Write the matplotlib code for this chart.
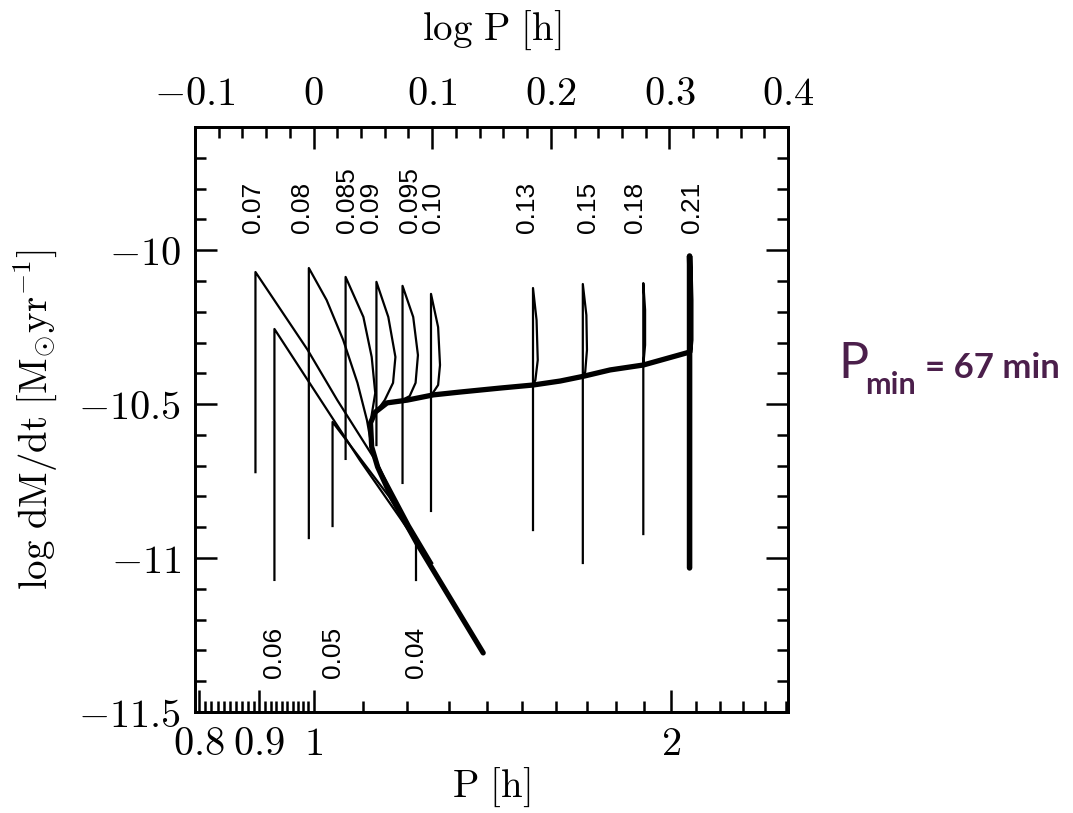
import numpy as np
import matplotlib
matplotlib.use('Agg')
import matplotlib.pyplot as plt
from matplotlib.ticker import FixedLocator, MultipleLocator

plt.rcParams['mathtext.fontset'] = 'cm'
plt.rcParams['font.family'] = 'serif'
plt.rcParams['font.serif'] = ['DejaVu Serif']

# evolutionary tracks: log P [h] vs log dM/dt [Msun/yr], one per initial donor mass
lp_007 = [-0.049, -0.049, -0.005, 0.020, 0.052, 0.081, 0.100]
lm_007 = [-10.721, -10.071, -10.324, -10.487, -10.682, -10.893, -11.016]

lp_006 = [-0.033, -0.033, 0.039, 0.073, 0.094, 0.098]
lm_006 = [-11.071, -10.256, -10.682, -10.870, -10.990, -11.016]

lp_005 = [0.016, 0.016, 0.039, 0.064, 0.086, 0.096]
lm_005 = [-10.896, -10.558, -10.675, -10.802, -10.932, -11.006]

lp_004 = [0.086, 0.086]
lm_004 = [-11.071, -10.941]

lp_008 = [-0.004, -0.004, 0.011, 0.025, 0.037, 0.045, 0.049, 0.056, 0.066]
lm_008 = [-10.935, -10.058, -10.162, -10.292, -10.431, -10.552, -10.639, -10.714, -10.805]

lp_0085 = [0.027, 0.027, 0.042, 0.049, 0.052, 0.049, 0.048]
lm_0085 = [-10.678, -10.087, -10.217, -10.347, -10.464, -10.535, -10.568]

lp_009 = [0.053, 0.053, 0.063, 0.069, 0.067, 0.060, 0.054]
lm_009 = [-10.633, -10.103, -10.217, -10.347, -10.431, -10.487, -10.519]

lp_0095 = [0.075, 0.075, 0.084, 0.088, 0.086, 0.081, 0.073]
lm_0095 = [-10.756, -10.116, -10.217, -10.341, -10.431, -10.474, -10.490]

lp_010 = [0.099, 0.099, 0.105, 0.1066, 0.105, 0.100, 0.094]
lm_010 = [-10.847, -10.142, -10.250, -10.373, -10.438, -10.467, -10.477]

lp_013 = [0.185, 0.185, 0.188, 0.189, 0.187, 0.185]
lm_013 = [-10.909, -10.123, -10.227, -10.357, -10.422, -10.438]

lp_015 = [0.227, 0.227, 0.230, 0.2305, 0.229, 0.227]
lm_015 = [-11.016, -10.110, -10.211, -10.324, -10.396, -10.412]

lp_018 = [0.278, 0.278, 0.2795, 0.2795, 0.278]
lm_018 = [-10.922, -10.107, -10.194, -10.308, -10.373]

lp_021 = [0.317, 0.317, 0.318, 0.318, 0.317]
lm_021 = [-11.032, -10.019, -10.162, -10.292, -10.331]

# common secular track through the period minimum
lp_main = [0.317, 0.278, 0.250, 0.227, 0.208, 0.185, 0.157, 0.123, 0.101, 0.079,
           0.062, 0.052, 0.048, 0.049, 0.054, 0.066, 0.087, 0.143]
lm_main = [-10.331, -10.373, -10.389, -10.410, -10.425, -10.438, -10.448, -10.461,
           -10.470, -10.487, -10.496, -10.526, -10.561, -10.639, -10.704, -10.805,
           -10.951, -11.308]

top_masses = ['0.07', '0.08', '0.085', '0.09', '0.095', '0.10', '0.13', '0.15', '0.18', '0.21']
top_mass_lp = [-0.051, -0.010, 0.028, 0.048, 0.081, 0.101, 0.180, 0.231, 0.271, 0.319]
bottom_masses = ['0.06', '0.05', '0.04']
bottom_mass_lp = [-0.033, 0.016, 0.086]

p_major = [0.8, 0.9, 1, 2]
p_minor = list(np.arange(0.81, 0.995, 0.01)) + [1.1, 1.2, 1.3, 1.4, 1.5, 1.6, 1.7, 1.8, 1.9,
                                                2.1, 2.2, 2.3, 2.4, 2.5]
logp_major = [-0.1, 0.0, 0.1, 0.2, 0.3, 0.4]
lm_major = [-11.5, -11.0, -10.5, -10.0]

fig = plt.figure(figsize=(10.73, 8.13), dpi=100)
ax = fig.add_axes([0.1817, 0.1242, 0.5527, 0.7196])

thin = dict(color='black', lw=1.6, solid_joinstyle='round')
for lp, lm in [(lp_007, lm_007), (lp_006, lm_006), (lp_005, lm_005), (lp_004, lm_004),
               (lp_008, lm_008), (lp_0085, lm_0085), (lp_009, lm_009), (lp_0095, lm_0095),
               (lp_010, lm_010), (lp_013, lm_013), (lp_015, lm_015), (lp_018, lm_018)]:
    ax.plot(lp, lm, **thin)
ax.plot(lp_021, lm_021, color='black', lw=4, solid_capstyle='round')
ax.plot(lp_main, lm_main, color='black', lw=3.8, solid_capstyle='round',
        solid_joinstyle='round')

for lab, x in zip(top_masses, top_mass_lp):
    ax.text(x, -9.945, lab, rotation=90, ha='center', va='bottom',
            family='Liberation Sans', fontsize=19)
for lab, x in zip(bottom_masses, bottom_mass_lp):
    ax.text(x, -11.39, lab, rotation=90, ha='center', va='bottom',
            family='Liberation Sans', fontsize=19)

ax.set_xlim(-0.1, 0.4)
ax.set_ylim(-11.5, -9.6)

ax2 = ax.twiny()
ax2.set_xlim(-0.1, 0.4)
ax2.set_xticks(logp_major)
ax2.set_xticklabels(['$-0.1$', '$0$', '$0.1$', '$0.2$', '$0.3$', '$0.4$'])
ax2.xaxis.set_minor_locator(MultipleLocator(0.02))
ax2.tick_params(axis='x', which='major', direction='in', length=16, width=1.8,
                labelsize=29, pad=10)
ax2.tick_params(axis='x', which='minor', direction='in', length=8, width=1.8)
ax2.set_xlabel(r'$\mathrm{log\ P\ [h]}$', fontsize=28, labelpad=26)

ax.set_xticks(np.log10(p_major))
ax.set_xticklabels(['$0.8$', '$0.9$', '$1$', '$2$'])
ax.xaxis.set_minor_locator(FixedLocator(np.log10(p_minor)))
ax.set_yticks(lm_major)
ax.set_yticklabels(['$-11.5$', '$-11$', '$-10.5$', '$-10$'])
ax.yaxis.set_minor_locator(MultipleLocator(0.1))
ax.yaxis.set_ticks_position('both')
ax.xaxis.set_ticks_position('bottom')
ax.tick_params(axis='both', which='major', direction='in', length=16, width=1.8,
               labelsize=29, pad=10)
ax.tick_params(axis='both', which='minor', direction='in', length=8, width=1.8)
ax.set_xlabel(r'$\mathrm{P\ [h]}$', fontsize=28, labelpad=2)
ax.set_ylabel(r'$\mathrm{log\ dM/dt\ [M_{\odot}yr^{-1}]}$', fontsize=28, labelpad=14)

for a in (ax, ax2):
    for s in a.spines.values():
        s.set_linewidth(2)

purple = '#4b1f4b'
fig.text(0.781, 0.535, 'P', color=purple, family='Lato', fontsize=36, va='baseline')
fig.text(0.806, 0.515, 'min', color=purple, family='Lato', fontweight='bold',
         fontsize=22, va='baseline')
fig.text(0.862, 0.535, '= 67 min', color=purple, family='Lato', fontweight='bold',
         fontsize=25, va='baseline')

fig.savefig('out.png', dpi=100, facecolor='white')
